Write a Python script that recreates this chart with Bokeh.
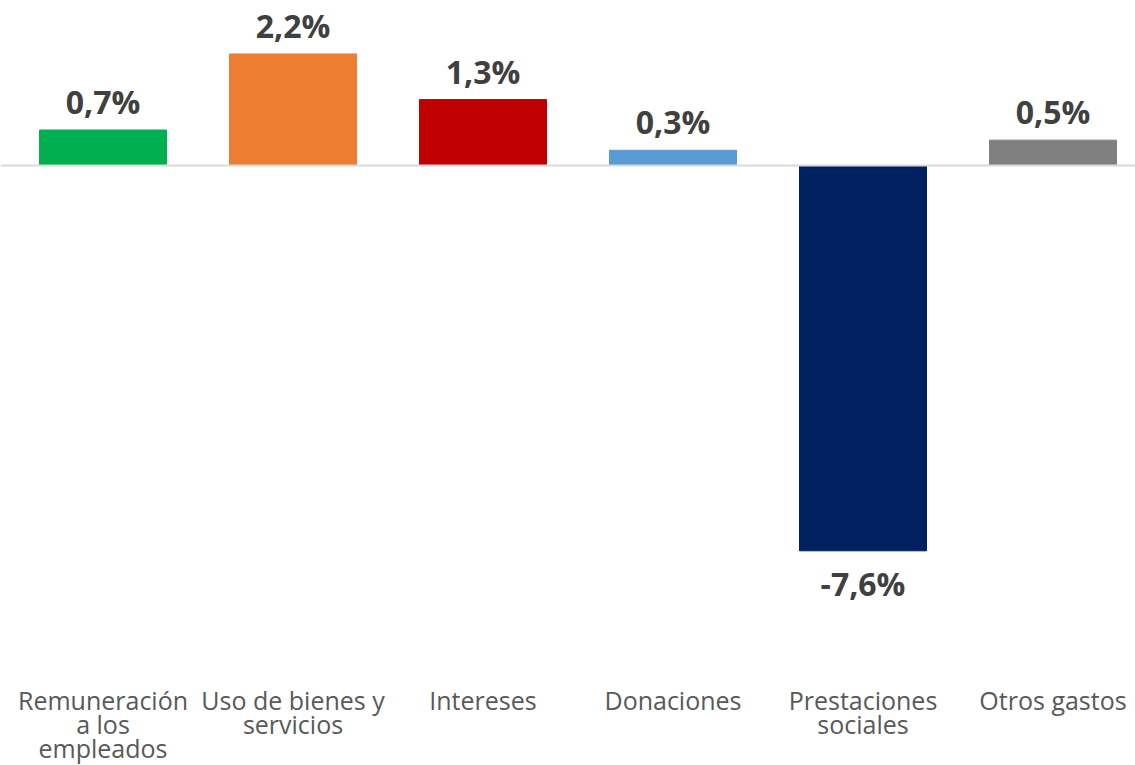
from bokeh.plotting import figure
from bokeh.models import ColumnDataSource, Range1d, Span
from bokeh.core.properties import value
from bokeh.embed import file_html
from bokeh.resources import INLINE

categories = ["Remuneración\na los\nempleados", "Uso de bienes y\nservicios", "Intereses",
              "Donaciones", "Prestaciones\nsociales", "Otros gastos"]
values = [0.7, 2.2, 1.3, 0.3, -7.6, 0.5]
colors = ["#00B050", "#ED7D31", "#C00000", "#5B9BD5", "#002060", "#808080"]
labels = ["0,7%", "2,2%", "1,3%", "0,3%", "-7,6%", "0,5%"]

xs = list(range(len(categories)))
W, H = 1135, 765
px_x = 190.0
px_y = 50.7
x0 = -102.5 / px_x
y_top = 165 / px_y
y_bot = y_top - H / px_y

p = figure(width=W, height=H, output_backend="svg", toolbar_location=None,
           x_range=Range1d(x0, x0 + W / px_x), y_range=Range1d(y_bot, y_top),
           min_border_left=0, min_border_right=0, min_border_top=0, min_border_bottom=0)
p.axis.visible = False
p.grid.visible = False
p.outline_line_color = None

pos_x = [x for x, v in zip(xs, values) if v >= 0]
pos_v = [v for v in values if v >= 0]
pos_l = [l for l, v in zip(labels, values) if v >= 0]
neg_x = [x for x, v in zip(xs, values) if v < 0]
neg_v = [v for v in values if v < 0]
neg_l = [l for l, v in zip(labels, values) if v < 0]

src = ColumnDataSource(dict(x=xs, top=values, color=colors, cat=categories))
p.vbar(x="x", top="top", bottom=0, width=127 / px_x, color="color", source=src)

p.add_layout(Span(location=0, dimension="width", line_color="#D9D9D9", line_width=2))

p.text(x=pos_x, y=pos_v, text=pos_l, text_align="center", text_baseline="bottom",
       y_offset=-7, text_font=value("Open Sans"), text_font_style="bold",
       text_font_size="32px", text_color="#404040")
p.text(x=neg_x, y=neg_v, text=neg_l, text_align="center", text_baseline="top",
       y_offset=11, text_font=value("Open Sans"), text_font_style="bold",
       text_font_size="32px", text_color="#404040")

label_y = -(682 - 165) / px_y
p.text(x="x", y=label_y, text="cat", source=src, text_align="center", text_baseline="top",
       text_font=value("Open Sans"), text_font_size="25px", text_color="#595959",
       text_line_height=0.72)

open("out.html", "w").write(file_html(p, INLINE))
